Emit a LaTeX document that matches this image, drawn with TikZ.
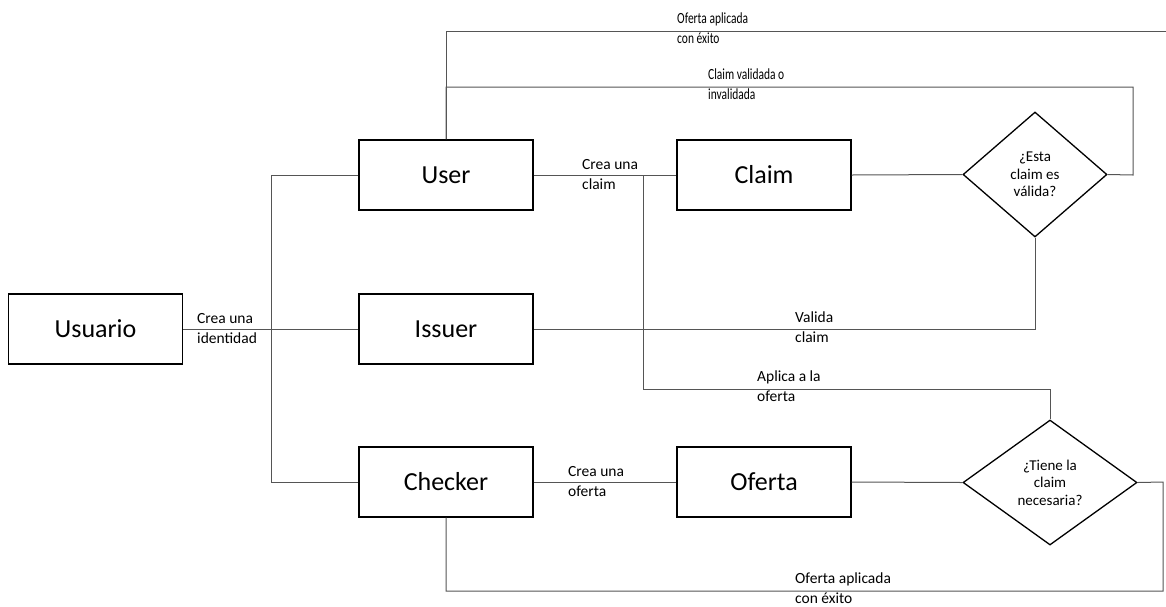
\documentclass[tikz,border=0pt]{standalone}
\usepackage{fontspec}
\setmainfont{Carlito}
\usetikzlibrary{shapes.geometric}
\definecolor{conn}{RGB}{85,85,85}
\newcommand{\twolines}[2]{\begin{tabular}{@{}l@{}}#1\\#2\end{tabular}}
\begin{document}
\begin{tikzpicture}[x=1pt,y=-1pt,
  box/.style={draw=black,line width=1.4pt,fill=white,minimum width=174pt,minimum height=70pt,inner sep=0pt,font=\fontsize{26}{30}\selectfont},
  decision/.style={draw=black,line width=1.3pt,shape=diamond,inner sep=0pt,align=center,font=\fontsize{15}{17.5}\selectfont},
  conline/.style={draw=conn,line width=1pt},
  lbl/.style={anchor=west,inner sep=0pt,font=\fontsize{15.5}{20}\selectfont}
]
\useasboundingbox (0,0) rectangle (1166,606);

% boxes
\node[box] (usuario) at (95.5,329) {Usuario};
\node[box] (user) at (446,175) {User};
\node[box] (issuer) at (446,329) {Issuer};
\node[box] (checker) at (446,482) {Checker};
\node[box] (claim) at (764,175) {Claim};
\node[box] (oferta) at (764,482) {Oferta};
\node[decision,minimum width=144pt,minimum height=125pt] (d1) at (1035,174.5) {¿Esta\\claim es\\válida?};
\node[decision,minimum width=174pt,minimum height=125pt] (d2) at (1050,482.5) {¿Tiene la\\claim\\necesaria?};

% junction coordinates
\coordinate (ja) at (271,175);
\coordinate (jb) at (271,482);
\coordinate (jc) at (643,175);
\coordinate (jd) at (643,389);
\coordinate (je) at (1133,175);
\coordinate (jf) at (1133,87);
\coordinate (jg) at (446,31);
\coordinate (jh) at (1166,31);
\coordinate (ji) at (1163,482);
\coordinate (jj) at (1163,591);

% connectors
\draw[conline] (usuario.east) -- (issuer.west);
\draw[conline] (user.west) -- (ja) -- (jb) -- (checker.west);
\draw[conline] (user.east) -- (claim.west);
\draw[conline] (jc) -- (jd) -| (d2.north);
\draw[conline] (claim.east) -- (d1.west);
\draw[conline] (d1.east) -- (je) -- (jf) -| (user.north);
\draw[conline] (user.north) -- (jg) -- (jh);
\draw[conline] (d1.south) |- (issuer.east);
\draw[conline] (checker.east) -- (oferta.west);
\draw[conline] (oferta.east) -- (d2.west);
\draw[conline] (d2.east) -- (ji) -- (jj) -| (checker.south);

% labels
\node[lbl] (l1) at (197,329) {\twolines{Crea una}{identidad}};
\node[lbl] (l2) at (582,175) {\twolines{Crea una}{claim}};
\node[lbl] (l3) at (568,482) {\twolines{Crea una}{oferta}};
\node[lbl] (l4) at (795,328.5) {\twolines{Valida}{claim}};
\node[lbl] (l5) at (757,387) {\twolines{Aplica a la}{oferta}};
\node[lbl] (l6) at (795,589) {\twolines{Oferta aplicada}{con éxito}};
\node[lbl] (l7) at (677,29.5) {\scalebox{0.74}[1]{\twolines{Oferta aplicada}{con éxito}}};
\node[lbl] (l8) at (708,85) {\scalebox{0.74}[1]{\twolines{Claim validada o}{invalidada}}};
\end{tikzpicture}
\end{document}
